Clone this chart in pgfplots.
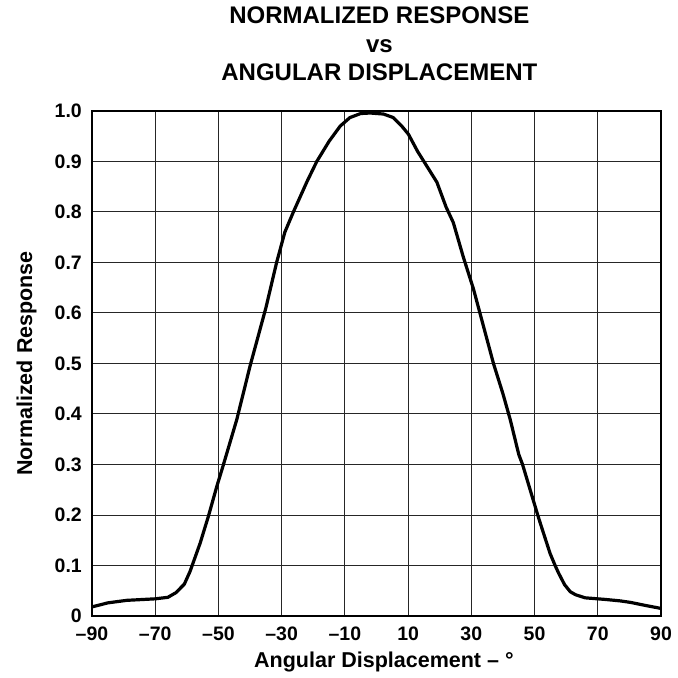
\documentclass[border=0pt]{standalone}
\usepackage{fontspec}
\setmainfont{Liberation Sans}
\usepackage{pgfplots}
\pgfplotsset{compat=1.18}
\begin{document}
\begin{tikzpicture}
\begin{axis}[
  scale only axis,
  width=569pt, height=505pt,
  xmin=-90, xmax=90, ymin=0, ymax=1.0,
  xtick={-90,-70,-50,-30,-10,10,30,50,70,90},
  xticklabels={–90,–70,–50,–30,–10,10,30,50,70,90},
  ytick={0,0.1,0.2,0.3,0.4,0.5,0.6,0.7,0.8,0.9,1.0},
  yticklabels={0,0.1,0.2,0.3,0.4,0.5,0.6,0.7,0.8,0.9,1.0},
  major tick length=0pt,
  grid=major,
  major grid style={black!85, line width=1pt},
  axis line style={black, line width=2.6pt},
  ticklabel style={font=\bfseries\fontsize{19.5}{19.5}\selectfont, inner sep=0pt},
  xticklabel style={anchor=base, yshift=-24pt},
  yticklabel style={anchor=east, xshift=-10pt},
  xlabel={Angular Displacement – °},
  ylabel={Normalized Response},
  label style={font=\bfseries\fontsize{21.5}{21.5}\selectfont, inner sep=0pt},
  xlabel style={at={(axis description cs:0.513,-0.101)}, anchor=base},
  ylabel style={at={(axis description cs:-0.1054,0.5)}, anchor=base},
  title={NORMALIZED RESPONSE\\vs\\ANGULAR DISPLACEMENT},
  title style={font=\bfseries\fontsize{24}{28.5}\selectfont, align=center, inner sep=0pt, anchor=south, at={(axis description cs:0.505,1)}, yshift=24pt},
]
\addplot[black, line width=3.2pt, line join=round, line cap=round] coordinates {
(-90,0.018) (-85,0.026) (-79,0.031) (-70,0.034) (-66,0.037) (-63.5,0.046)
(-60.8,0.063) (-59,0.088) (-55.8,0.144) (-53.2,0.197) (-50.5,0.257) (-48.6,0.296)
(-44.2,0.389) (-40,0.495) (-35,0.61) (-31.6,0.70) (-29,0.76) (-26.3,0.80)
(-22,0.86) (-18.9,0.90) (-15,0.94) (-11.5,0.97) (-8.4,0.987) (-5,0.995)
(-2,0.996) (2.2,0.994) (5.3,0.987) (8,0.97) (10.1,0.954) (13,0.92)
(15.9,0.891) (19.1,0.859) (22,0.81) (24.3,0.779) (27.5,0.71) (30.7,0.647)
(34,0.57) (37,0.50) (40,0.44) (42.3,0.389) (45,0.32) (46.2,0.30) (48.6,0.25)
(51,0.20) (51.8,0.184) (54.9,0.124) (56.5,0.10) (57.6,0.085) (59.5,0.062) (61.3,0.048)
(63,0.042) (66,0.036) (72,0.033) (77,0.030) (80.3,0.027) (85,0.021) (90,0.015)
};
\end{axis}
\pgfresetboundingbox
\path[use as bounding box] ([xshift=-92pt,yshift=-62pt]current axis.south west) rectangle ([xshift=16pt,yshift=111pt]current axis.north east);
\end{tikzpicture}
\end{document}
